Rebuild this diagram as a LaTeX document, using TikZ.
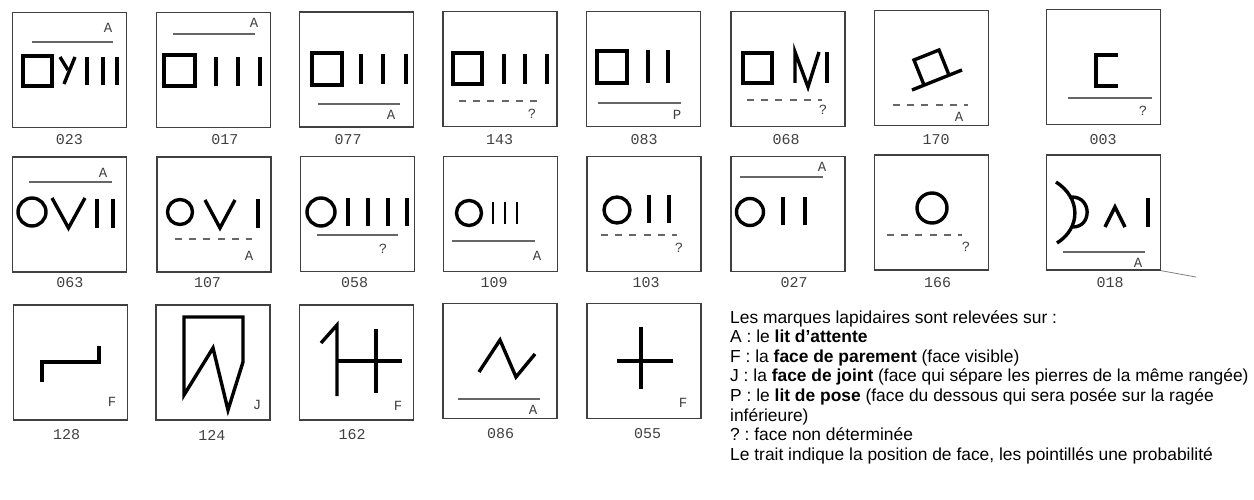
\documentclass[tikz,border=0pt]{standalone}
\usepackage{fontspec}
\setmainfont{Liberation Sans}
\newfontfamily\monof{Liberation Mono}
\frenchspacing
\begin{document}
\begin{tikzpicture}[x=1pt,y=-1pt,
  tile/.style={draw=black!75,line width=1.4pt,minimum width=114pt,minimum height=115pt,inner sep=0pt},
  mk/.style={line width=3.4pt,black,line join=miter},
  posline/.style={line width=1.3pt,black!60},
  prob/.style={line width=1.3pt,black!60,dash pattern=on 7pt off 7.2pt},
  num/.style={font=\monof\fontsize{15}{15}\selectfont,text=black!75,inner sep=0pt},
  fc/.style={font=\monof\fontsize{14}{14}\selectfont,text=black!75,inner sep=0pt},
  leg/.style={anchor=base west,inner sep=0pt,font=\fontsize{17.4}{20}\selectfont}]
\useasboundingbox (0,0) rectangle (1254,500);
% ---------- tiles ----------
\node[tile] (b023) at (69.5,70) {};
\node[tile] (b017) at (213.5,70) {};
\node[tile] (b077) at (356.5,69.5) {};
\node[tile] (b143) at (500,69) {};
\node[tile] (b083) at (643.5,69) {};
\node[tile] (b068) at (788,69) {};
\node[tile] (b170) at (931.5,68) {};
\node[tile] (b003) at (1103.5,67) {};
\node[tile] (b063) at (69.5,214.5) {};
\node[tile] (b107) at (214,214.5) {};
\node[tile] (b058) at (357.5,214) {};
\node[tile] (b109) at (500.5,214) {};
\node[tile] (b103) at (644,214) {};
\node[tile] (b027) at (788,214) {};
\node[tile] (b166) at (931.5,212.5) {};
\node[tile] (b018) at (1103.5,212.5) {};
\node[tile] (b128) at (70.5,362.5) {};
\node[tile] (b124) at (213,362.5) {};
\node[tile] (b162) at (356.5,362.5) {};
\node[tile] (b086) at (500,361) {};
\node[tile] (b055) at (644,361) {};
% ---------- numbers ----------
\node[num] (n023) at (69.5,140) {023};
\node[num] (n017) at (225,140) {017};
\node[num] (n077) at (348,140) {077};
\node[num] (n143) at (499.5,140) {143};
\node[num] (n083) at (644,140) {083};
\node[num] (n068) at (786,140) {068};
\node[num] (n170) at (936,140) {170};
\node[num] (n003) at (1103,140) {003};
\node[num] (n063) at (70,283) {063};
\node[num] (n107) at (207.5,283) {107};
\node[num] (n058) at (354.5,283) {058};
\node[num] (n109) at (494,283) {109};
\node[num] (n103) at (646,283) {103};
\node[num] (n027) at (794,283) {027};
\node[num] (n166) at (937.5,283) {166};
\node[num] (n018) at (1110,283) {018};
\node[num] (n128) at (66.7,435) {128};
\node[num] (n124) at (212,435) {124};
\node[num] (n162) at (352,435) {162};
\node[num] (n086) at (500.5,434) {086};
\node[num] (n055) at (647.5,434) {055};
% ---------- face letters ----------
\node[fc] (f023) at (108,28) {A};
\node[fc] (f017) at (254,23) {A};
\node[fc] (f077) at (391,115) {A};
\node[fc] (f143) at (532,114) {?};
\node[fc] (f083) at (677,115) {P};
\node[fc] (f068) at (823,110) {?};
\node[fc] (f170) at (959,117) {A};
\node[fc] (f003) at (1143,111) {?};
\node[fc] (f063) at (103,173) {A};
\node[fc] (f107) at (249,256) {A};
\node[fc] (f058) at (383,249) {?};
\node[fc] (f109) at (537,256) {A};
\node[fc] (f103) at (679,248) {?};
\node[fc] (f027) at (822,167) {A};
\node[fc] (f166) at (966,247) {?};
\node[fc] (f018) at (1138,263) {A};
\node[fc] (f128) at (112,402) {F};
\node[fc] (f124) at (257,405) {J};
\node[fc] (f162) at (398,406) {F};
\node[fc] (f086) at (533,410) {A};
\node[fc] (f055) at (683,403) {F};
% ---------- position lines ----------
\draw[posline] (32,42) -- (113,42);
\draw[posline] (173,34) -- (255,34);
\draw[posline] (318,104) -- (400,104);
\draw[prob] (459,101) -- (537,101);
\draw[posline] (598,103) -- (681,103);
\draw[prob] (747,100) -- (822,100);
\draw[prob] (893,105) -- (968,105);
\draw[posline] (1068,98) -- (1152,98);
\draw[posline] (29,182) -- (112,182);
\draw[prob] (175,239) -- (252,239);
\draw[posline] (317,235) -- (398,235);
\draw[posline] (452,241) -- (535,241);
\draw[prob] (601,235) -- (677,235);
\draw[posline] (740,177) -- (823,177);
\draw[prob] (887,235) -- (962,235);
\draw[posline] (1063,252) -- (1145,252);
\draw[posline] (458,399) -- (540,399);
% ---------- marks row 1 ----------
\draw[mk] (23,56) rectangle (52,86);
\draw[mk] (60,57) -- (68,70);
\draw[mk] (75,57) -- (64,84);
\foreach \x in {87,103,117} \draw[mk] (\x,57) -- (\x,85);
\draw[mk] (164,55) rectangle (195,86);
\foreach \x in {216,238,260} \draw[mk] (\x,57) -- (\x,86);
\draw[mk] (312,53) rectangle (342,85);
\foreach \x in {361,383,406} \draw[mk] (\x,54) -- (\x,84);
\draw[mk] (453,53) rectangle (482,84);
\foreach \x in {504,525,547} \draw[mk] (\x,54) -- (\x,84);
\draw[mk] (597,51) rectangle (627,83);
\foreach \x in {648,668} \draw[mk] (\x,50) -- (\x,83);
\draw[mk] (743,53) rectangle (772,83);
\draw[mk] (795,83) -- (795,52) -- (808,87) -- (819,52);
\draw[mk] (827,52) -- (827,83);
\draw[mk] (924,85) -- (914,60) -- (939,50) -- (949,75);
\draw[mk] (912,90) -- (962,70);
\draw[mk] (1118,55) -- (1096,55) -- (1096,86) -- (1118,86);
% ---------- marks row 2 ----------
\draw[mk] (32,212) circle[radius=14];
\draw[mk] (52,198) -- (68.5,228) -- (85,198);
\foreach \x in {97,113} \draw[mk] (\x,199) -- (\x,228);
\draw[mk] (180,212) circle[radius=12.5];
\draw[mk] (205,200) -- (220,228) -- (235,200);
\draw[mk] (258,199) -- (258,228);
\draw[mk] (321,212) circle[radius=14];
\foreach \x in {348,368,388,407} \draw[mk] (\x,198) -- (\x,226);
\draw[mk] (469,213) circle[radius=12.5];
\foreach \x in {493,505,517} \draw[mk,line width=2.8pt] (\x,202) -- (\x,224);
\draw[mk] (617,210) circle[radius=13];
\foreach \x in {649,669} \draw[mk] (\x,195) -- (\x,223);
\draw[mk] (750,212) circle[radius=13.5];
\foreach \x in {783,805} \draw[mk] (\x,197) -- (\x,225);
\draw[mk] (932,208) circle[radius=15];
\draw[mk] (1056,182) .. controls (1081,198) and (1081,228) .. (1057,243);
\draw[mk] (1072,197) .. controls (1092,197) and (1092,227) .. (1073,227);
\draw[mk] (1105,227) -- (1115,207) -- (1125,227);
\draw[mk] (1148,198) -- (1148,227);
\coordinate (stray) at (1196,277);
\draw[line width=0.8pt,black!50] (b018.south east) -- (stray);
% ---------- marks row 3 ----------
\draw[mk] (42,382) -- (42,362) -- (99,362) -- (99,346);
\draw[mk] (184,395) -- (184,317) -- (243,317) -- (243,362) -- (228,410) -- (213,348) -- cycle;
\draw[mk] (321,343) -- (337,325) -- (337,396);
\draw[mk] (337,361) -- (402,361);
\draw[mk] (376,329) -- (376,393);
\draw[mk] (479,372) -- (500,340) -- (516,377) -- (535,354);
\draw[mk] (617,361) -- (673,361);
\draw[mk] (641,327) -- (641,389);
% ---------- legend ----------
\node[leg] (l1) at (730,323) {Les marques lapidaires sont relevées sur :};
\node[leg] (l2) at (730,342.6) {A : le \textbf{lit d’attente}};
\node[leg] (l3) at (730,362.2) {F : la \textbf{face de parement} (face visible)};
\node[leg] (l4) at (730,381.8) {J : la \textbf{face de joint} (face qui sépare les pierres de la même rangée)};
\node[leg] (l5) at (730,401.4) {P : le \textbf{lit de pose} (face du dessous qui sera posée sur la ragée};
\node[leg] (l6) at (730,421) {inférieure)};
\node[leg] (l7) at (730,440.6) {? : face non déterminée};
\node[leg] (l8) at (730,460.2) {Le trait indique la position de face, les pointillés une probabilité};
\end{tikzpicture}
\end{document}
